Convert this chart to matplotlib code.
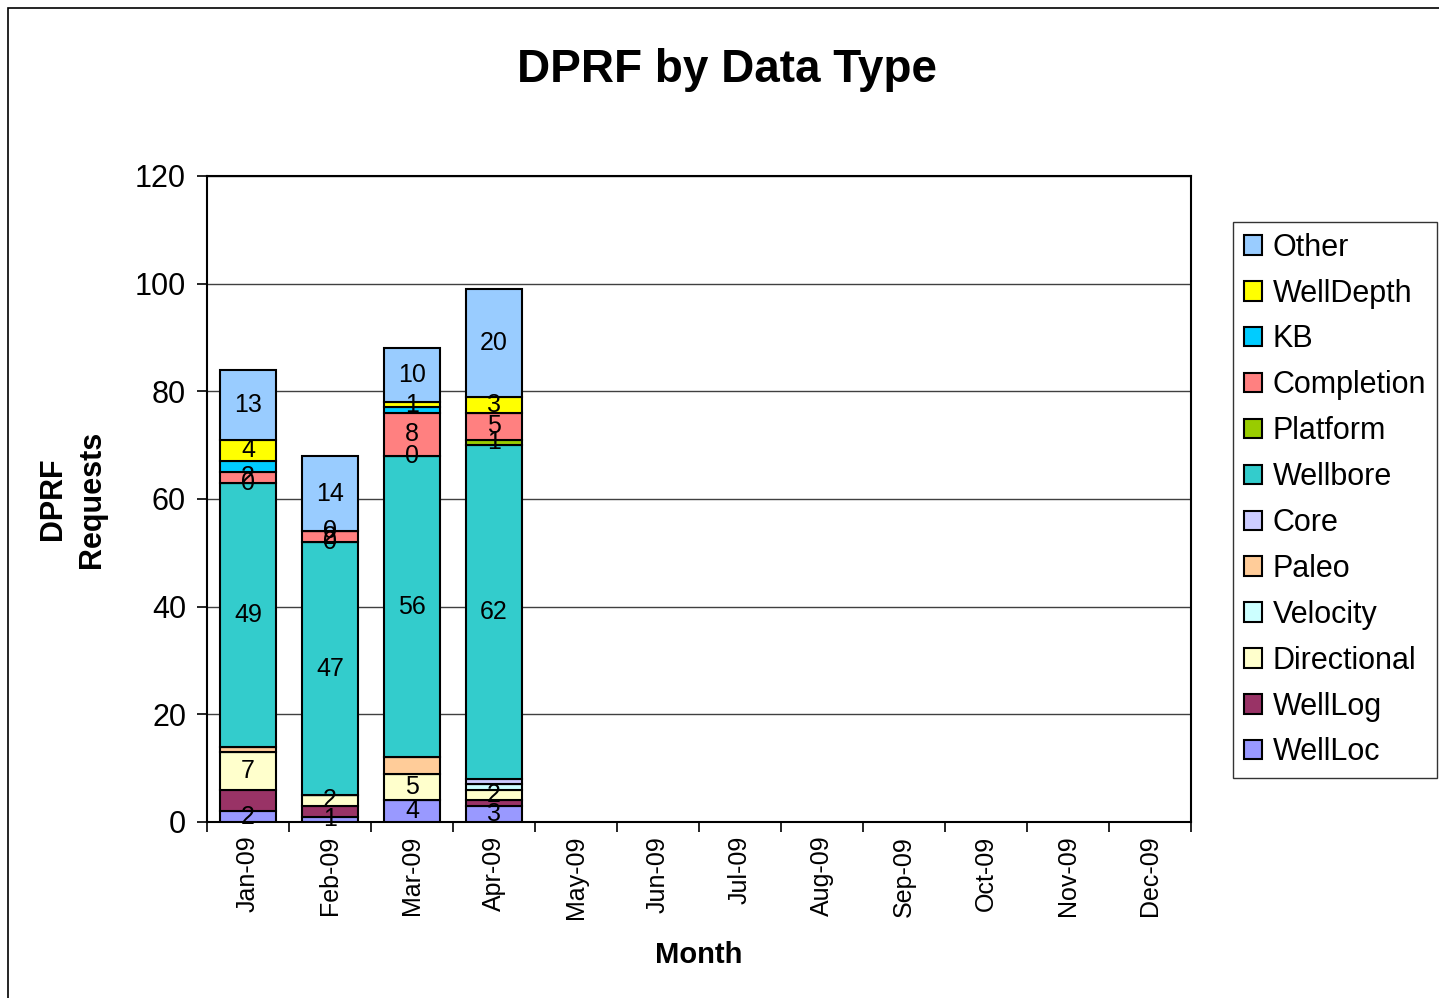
import numpy as np
import matplotlib
matplotlib.use('Agg')
import matplotlib.pyplot as plt
from matplotlib.patches import Patch, Rectangle

plt.rcParams['font.family'] = ['Liberation Sans', 'DejaVu Sans']

# Months on the x axis (only Jan-Apr have data)
months = ['Jan-09', 'Feb-09', 'Mar-09', 'Apr-09', 'May-09', 'Jun-09',
          'Jul-09', 'Aug-09', 'Sep-09', 'Oct-09', 'Nov-09', 'Dec-09']

# Series values, bottom to top, for Jan..Apr
well_loc = [2, 1, 4, 3]
well_log = [4, 2, 0, 1]
directional = [7, 2, 5, 2]
velocity = [0, 0, 0, 1]
paleo = [1, 0, 3, 0]
core = [0, 0, 0, 1]
wellbore = [49, 47, 56, 62]
platform = [0, 0, 0, 1]
completion = [2, 2, 8, 5]
kb = [2, 0, 1, 0]
well_depth = [4, 0, 1, 3]
other = [13, 14, 10, 20]

series = [
    ('WellLoc', well_loc, '#9999FF', True),
    ('WellLog', well_log, '#993366', False),
    ('Directional', directional, '#FFFFCC', True),
    ('Velocity', velocity, '#CCFFFF', False),
    ('Paleo', paleo, '#FFCC99', False),
    ('Core', core, '#CCCCFF', False),
    ('Wellbore', wellbore, '#33CCCC', True),
    ('Platform', platform, '#99CC00', True),
    ('Completion', completion, '#FF8080', True),
    ('KB', kb, '#00CCFF', False),
    ('WellDepth', well_depth, '#FFFF00', True),
    ('Other', other, '#99CCFF', True),
]

fig = plt.figure(figsize=(14.39, 9.98), dpi=100)
ax = fig.add_axes([0.1438, 0.1764, 0.6838, 0.6473])

x = np.arange(len(months))
n = len(well_loc)
bottom = np.zeros(n)
for name, vals, color, labeled in series:
    vals = np.array(vals, dtype=float)
    ax.bar(x[:n], vals, width=0.68, bottom=bottom, color=color,
           edgecolor='black', linewidth=1.5, zorder=3)
    if labeled:
        for i in range(n):
            ax.text(x[i], bottom[i] + vals[i] / 2, f'{int(vals[i])}',
                    ha='center', va='center', fontsize=18, zorder=4)
    bottom += vals

ax.set_xlim(-0.5, len(months) - 0.5)
ax.set_ylim(0, 120)
ax.set_yticks(np.arange(0, 121, 20))
ax.tick_params(axis='y', labelsize=22, length=7, width=1.2, pad=8)
ax.set_xticks(x)
ax.set_xticklabels(months, rotation=90, fontsize=18)
ax.tick_params(axis='x', length=0, pad=10)
ax.set_xticks(np.arange(-0.5, len(months), 1), minor=True)
ax.tick_params(axis='x', which='minor', length=7, width=1.2)
ax.grid(axis='y', color='#404040', linewidth=1.0, zorder=0)
for s in ax.spines.values():
    s.set_linewidth(1.5)

ax.set_xlabel('Month', fontsize=21, fontweight='bold', labelpad=16)
ax.set_ylabel('DPRF\nRequests', fontsize=22, fontweight='bold', labelpad=20,
              linespacing=1.4)
fig.text(0.505, 0.93, 'DPRF by Data Type', ha='center', va='center',
         fontsize=33, fontweight='bold')

handles = [Patch(facecolor=c, edgecolor='black', linewidth=1.5, label=nm)
           for nm, _, c, _ in reversed(series)]
leg = fig.legend(handles=handles, loc='upper left',
                 bbox_to_anchor=(1233 / 1439, 1 - 222 / 998),
                 fontsize=22, frameon=True, fancybox=False,
                 edgecolor='black', handlelength=0.6, handleheight=0.6,
                 handletextpad=0.35, labelspacing=0.52, borderpad=0.35,
                 borderaxespad=0)
leg.get_frame().set_linewidth(1.0)

# outer chart border (left/top visible)
fig.add_artist(Rectangle((8 / 1439, -0.1), 2, 0.1 + 990 / 998,
                         transform=fig.transFigure, fill=False,
                         edgecolor='black', linewidth=1.2))

fig.savefig('out.png', dpi=100)
